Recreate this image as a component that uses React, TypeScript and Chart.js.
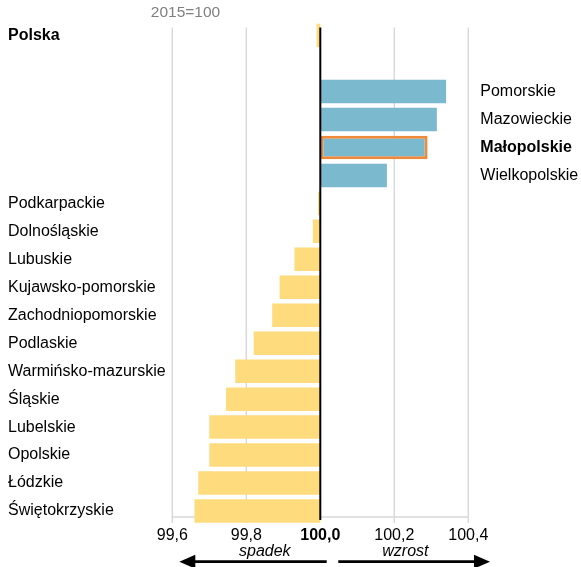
import React, { useEffect, useRef } from 'react';
import { Chart, registerables } from 'chart.js';

Chart.register(...registerables);

const regions = [
  'Polska', '', 'Pomorskie', 'Mazowieckie', 'Małopolskie', 'Wielkopolskie',
  'Podkarpackie', 'Dolnośląskie', 'Lubuskie', 'Kujawsko-pomorskie', 'Zachodniopomorskie',
  'Podlaskie', 'Warmińsko-mazurskie', 'Śląskie', 'Lubelskie', 'Opolskie', 'Łódzkie', 'Świętokrzyskie',
];
const values: (number | null)[] = [
  99.99, null, 100.34, 100.315, 100.29, 100.18,
  99.994, 99.98, 99.93, 99.89, 99.87,
  99.82, 99.77, 99.745, 99.70, 99.70, 99.67, 99.66,
];
const highlighted = 'Małopolskie';
const boldLabels = ['Polska', 'Małopolskie'];
const xTicks = [99.6, 99.8, 100.0, 100.2, 100.4];
const baseValue = 100;
const subtitle = '2015=100';
const decreaseLabel = 'spadek';
const increaseLabel = 'wzrost';

const FONT = '"Liberation Sans", Arial, Helvetica, sans-serif';
const BLUE = '#7bb9ce';
const YELLOW = '#fedb7c';
const ORANGE = '#ee8a3a';
const GRID = '#d9d9d9';

const isRight = (i: number) => {
  const v = values[i];
  return v != null && v > baseValue;
};

export default function App() {
  const ref = useRef<HTMLCanvasElement | null>(null);

  useEffect(() => {
    const canvas = ref.current;
    if (!canvas) return;

    const overlay = {
      id: 'overlay',
      beforeDatasetsDraw(chart: any) {
        const { ctx, chartArea, scales } = chart;
        const x = scales.x;
        ctx.save();
        ctx.strokeStyle = GRID;
        ctx.lineWidth = 1.5;
        for (const t of xTicks) {
          if (Math.abs(t - baseValue) < 1e-9) continue;
          const px = x.getPixelForValue(t);
          ctx.beginPath();
          ctx.moveTo(px, chartArea.top + 6);
          ctx.lineTo(px, chartArea.bottom - 2);
          ctx.stroke();
        }
        // axis line
        ctx.beginPath();
        ctx.moveTo(x.getPixelForValue(xTicks[0]), chartArea.bottom - 8);
        ctx.lineTo(x.getPixelForValue(xTicks[xTicks.length - 1]), chartArea.bottom - 8);
        ctx.stroke();
        ctx.restore();
      },
      afterDatasetsDraw(chart: any) {
        const { ctx, chartArea, scales } = chart;
        const x0 = scales.x.getPixelForValue(baseValue);
        ctx.save();
        ctx.strokeStyle = '#000';
        ctx.lineWidth = 2;
        ctx.beginPath();
        ctx.moveTo(x0, chartArea.top + 6);
        ctx.lineTo(x0, chartArea.bottom - 5);
        ctx.stroke();
        ctx.restore();
      },
      afterDraw(chart: any) {
        const { ctx, chartArea, scales } = chart;
        const x = scales.x;
        const x0 = x.getPixelForValue(baseValue);
        const xMin = x.getPixelForValue(xTicks[0]);
        const xMax = x.getPixelForValue(xTicks[xTicks.length - 1]);
        ctx.save();
        // subtitle
        ctx.fillStyle = '#7f7f7f';
        ctx.font = `15.5px ${FONT}`;
        ctx.textAlign = 'left';
        ctx.textBaseline = 'middle';
        ctx.fillText(subtitle, chartArea.left - 21.5, 12.7);
        // direction labels
        ctx.fillStyle = '#000';
        ctx.font = `italic 16px ${FONT}`;
        ctx.textAlign = 'center';
        const ty = chartArea.bottom + 26.7;
        ctx.fillText(decreaseLabel, x.getPixelForValue(99.85), ty);
        ctx.fillText(increaseLabel, x.getPixelForValue(100.23), ty);
        // arrows
        const ay = chartArea.bottom + 36.7;
        const drawArrow = (from: number, tip: number) => {
          const dir = tip > from ? 1 : -1;
          const headLen = 16;
          const headHalf = 7;
          ctx.strokeStyle = '#000';
          ctx.lineWidth = 2.7;
          ctx.beginPath();
          ctx.moveTo(from, ay);
          ctx.lineTo(tip - dir * headLen * 0.8, ay);
          ctx.stroke();
          ctx.fillStyle = '#000';
          ctx.beginPath();
          ctx.moveTo(tip, ay);
          ctx.lineTo(tip - dir * headLen, ay - headHalf);
          ctx.lineTo(tip - dir * headLen, ay + headHalf);
          ctx.closePath();
          ctx.fill();
        };
        drawArrow(x0 + 6.4, xMin + 7);
        drawArrow(x0 + 18, xMax + 21.7);
        ctx.restore();
      },
    };

    const chart = new Chart(canvas, {
      type: 'bar',
      data: {
        labels: regions,
        datasets: [
          {
            data: values as any,
            base: baseValue,
            backgroundColor: values.map((v) => (v != null && v > baseValue ? BLUE : YELLOW)),
            borderColor: regions.map((r) => (r === highlighted ? ORANGE : 'rgba(0,0,0,0)')),
            borderWidth: regions.map((r) => (r === highlighted ? 3 : 0)),
            borderSkipped: false,
            barPercentage: 0.84,
            categoryPercentage: 1,
          } as any,
        ],
      },
      options: {
        indexAxis: 'y',
        animation: false,
        responsive: true,
        maintainAspectRatio: false,
        layout: { padding: { left: 8, top: 21, right: 0, bottom: 0 } },
        plugins: {
          legend: { display: false },
          tooltip: { enabled: false },
          title: { display: false },
        },
        scales: {
          x: {
            type: 'linear',
            min: xTicks[0],
            max: xTicks[xTicks.length - 1],
            afterBuildTicks: (s: any) => {
              s.ticks = xTicks.map((v) => ({ value: v }));
            },
            afterFit: (s: any) => {
              s.height = 42;
            },
            grid: { display: false, drawTicks: false },
            border: { display: false },
            ticks: {
              padding: 1,
              color: '#000',
              font: (ctx: any) => ({
                family: FONT,
                size: 16,
                weight: ctx.tick && Math.abs(ctx.tick.value - baseValue) < 1e-9 ? 'bold' : 'normal',
              }),
              callback: (v: any) => Number(v).toFixed(1).replace('.', ','),
            },
          },
          y: {
            type: 'category',
            position: 'left',
            offset: true,
            grid: { display: false, drawTicks: false },
            border: { display: false },
            afterFit: (s: any) => {
              s.width = 164.3;
            },
            ticks: {
              crossAlign: 'far',
              padding: 0,
              autoSkip: false,
              color: '#000',
              font: (ctx: any) => ({
                family: FONT,
                size: 16,
                weight: boldLabels.includes(regions[ctx.index]) ? 'bold' : 'normal',
              }),
              callback: (_v: any, i: number) => (isRight(i) ? '' : regions[i]),
            },
          },
          y2: {
            type: 'category',
            position: 'right',
            labels: regions,
            offset: true,
            grid: { display: false, drawTicks: false },
            border: { display: false },
            afterFit: (s: any) => {
              s.width = 112.7;
            },
            ticks: {
              crossAlign: 'near',
              padding: 12,
              autoSkip: false,
              color: '#000',
              font: (ctx: any) => ({
                family: FONT,
                size: 16,
                weight: boldLabels.includes(regions[ctx.index]) ? 'bold' : 'normal',
              }),
              callback: (_v: any, i: number) => (isRight(i) ? regions[i] : ''),
            },
          },
        } as any,
      },
      plugins: [overlay],
    });

    return () => chart.destroy();
  }, []);

  return (
    <div style={{ position: 'fixed', left: 0, top: 0, width: 581, height: 567 }}>
      <canvas ref={ref} style={{ width: '100%', height: '100%' }} />
    </div>
  );
}
